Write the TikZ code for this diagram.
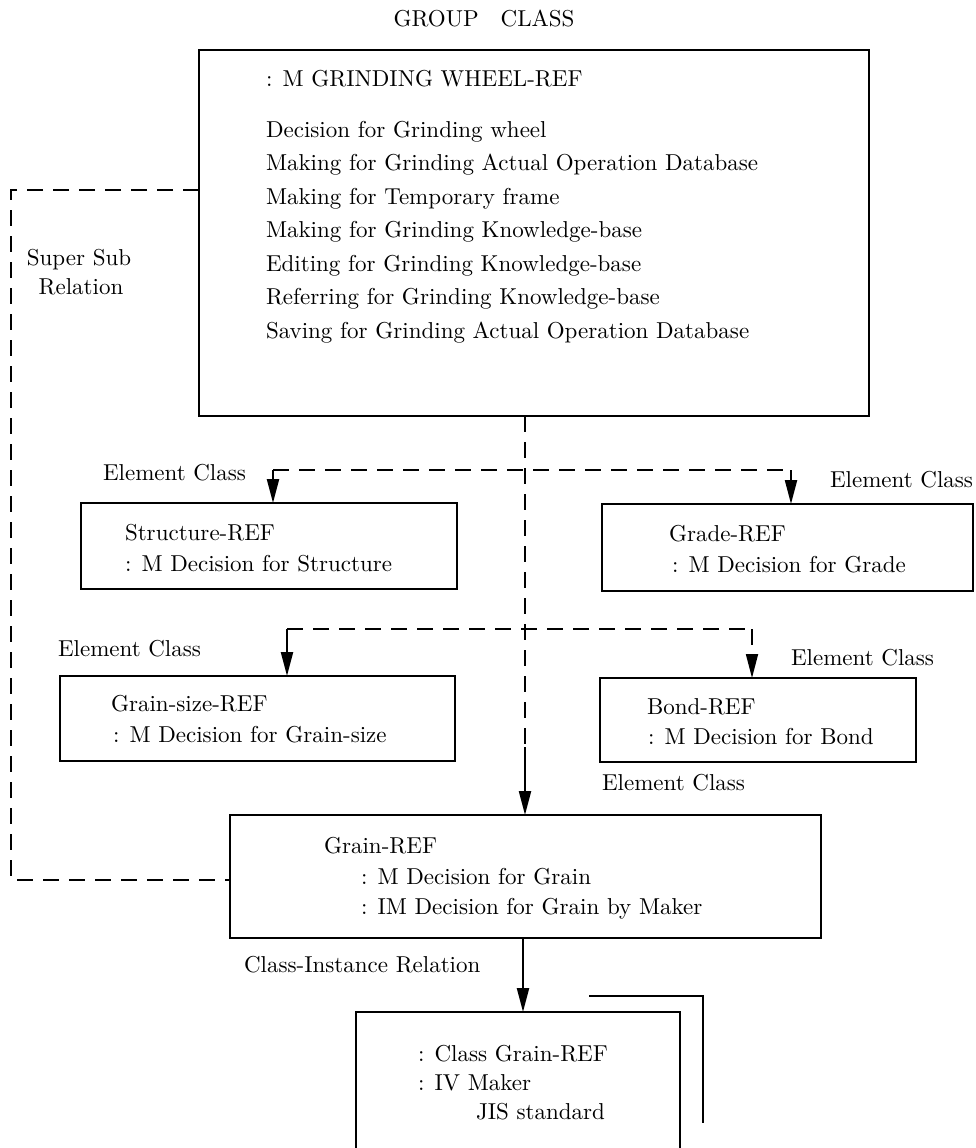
\documentclass[tikz,border=0pt]{standalone}
\usepackage{fontspec}
\setmainfont{lmroman10-regular.otf}
\usetikzlibrary{arrows.meta}
\begin{document}
\begin{tikzpicture}[x=1pt,y=-1pt,
  box/.style={draw,line width=1.6pt,inner sep=0pt,outer sep=0pt},
  txt/.style={anchor=base west,inner sep=0pt,outer sep=0pt,font=\fontsize{23}{27}\selectfont},
  ctxt/.style={anchor=base,inner sep=0pt,outer sep=0pt,font=\fontsize{23}{27}\selectfont},
  dline/.style={line width=1.8pt,dash pattern=on 16pt off 10pt},
  arr/.style={line width=2.2pt,-{Triangle[length=24pt,width=12pt]}},
  darr/.style={dline,-{Triangle[length=24pt,width=12pt]}}]
\useasboundingbox (0,0) rectangle (975,1148);
\clip (0,0) rectangle (975,1148);

% title
\node[ctxt] (title) at (484,27) {GROUP\hspace{22pt}CLASS};

% group class box
\node[box,minimum width=670pt,minimum height=366pt] (top) at (534,233) {};
\node[txt] (t0) at (266,86) {: M GRINDING WHEEL-REF};
\node[txt] (t1) at (266,137) {Decision for Grinding wheel};
\node[txt] (t2) at (266,170.5) {Making for Grinding Actual Operation Database};
\node[txt] (t3) at (266,204) {Making for Temporary frame};
\node[txt] (t4) at (266,237.5) {Making for Grinding Knowledge-base};
\node[txt] (t5) at (266,271) {Editing for Grinding Knowledge-base};
\node[txt] (t6) at (266,304.5) {Referring for Grinding Knowledge-base};
\node[txt] (t7) at (266,338) {Saving for Grinding Actual Operation Database};

% super/sub relation label
\node[ctxt] (ss1) at (79,265) {Super Sub};
\node[ctxt] (ss2) at (81,294) {Relation};

% element classes
\node[box,minimum width=376pt,minimum height=86pt] (struct) at (269,546) {};
\node[txt] (s1) at (125,540) {Structure-REF};
\node[txt] (s2) at (125,571) {: M Decision for Structure};

\node[box,minimum width=371pt,minimum height=87pt] (grade) at (787.5,547.5) {};
\node[txt] (g1) at (669,541) {Grade-REF};
\node[txt] (g2) at (672,572) {: M Decision for Grade};

\node[box,minimum width=395pt,minimum height=85pt] (gsize) at (257.5,718.5) {};
\node[txt] (z1) at (111,711) {Grain-size-REF};
\node[txt] (z2) at (113,742) {: M Decision for Grain-size};

\node[box,minimum width=316pt,minimum height=84pt] (bond) at (758,720) {};
\node[txt] (b1) at (647,714) {Bond-REF};
\node[txt] (b2) at (648,744) {: M Decision for Bond};

\node[txt] (e1) at (103,480) {Element Class};
\node[txt] (e2) at (830,487) {Element Class};
\node[txt] (e3) at (58,656) {Element Class};
\node[txt] (e4) at (791,665) {Element Class};
\node[txt] (e5) at (602,790) {Element Class};

% grain class
\node[box,minimum width=591pt,minimum height=123pt] (grain) at (525.5,876.5) {};
\node[txt] (r1) at (324,853) {Grain-REF};
\node[txt] (r2) at (361,884) {: M Decision for Grain};
\node[txt] (r3) at (361,914) {: IM Decision for Grain by Maker};

\node[txt] (ci) at (244,972) {Class-Instance Relation};

% instance (stacked)
\node[box,minimum width=324pt,minimum height=200pt] (inst) at (518,1112) {};
\draw[line width=1.6pt] (589,996) -- (703,996) -- (703,1123);
\node[txt] (i1) at (418,1061) {: Class Grain-REF};
\node[txt] (i2) at (418,1090) {: IV Maker};
\node[txt] (i3) at (476,1119) {JIS standard};

% super-sub relation connector
\coordinate (ssa) at (11,190);
\coordinate (ssb) at (11,880);
\draw[dline] (top.west |- ssa) -- (ssa) -- (ssb) -- (grain.west |- ssb);

% trunk
\coordinate (trunk) at (525,747);
\draw[dline] (top.south -| trunk) -- (trunk);
\draw[arr] (trunk) -- (grain.north -| trunk);

% first branch
\coordinate (b1l) at (273,470);
\coordinate (b1r) at (791,470);
\draw[dline] (b1l) -- (b1r);
\draw[arr] (b1l) -- (struct.north -| b1l);
\draw[arr] (b1r) -- (grade.north -| b1r);

% second branch
\coordinate (b2l) at (287,629);
\coordinate (b2r) at (752,629);
\draw[dline] (b2l) -- (b2r);
\draw[arr] (b2l) -- (gsize.north -| b2l);
\draw[darr] (b2r) -- (bond.north -| b2r);

% class-instance relation
\coordinate (cix) at (523,938);
\draw[arr] (grain.south -| cix) -- (inst.north -| cix);
\end{tikzpicture}
\end{document}
